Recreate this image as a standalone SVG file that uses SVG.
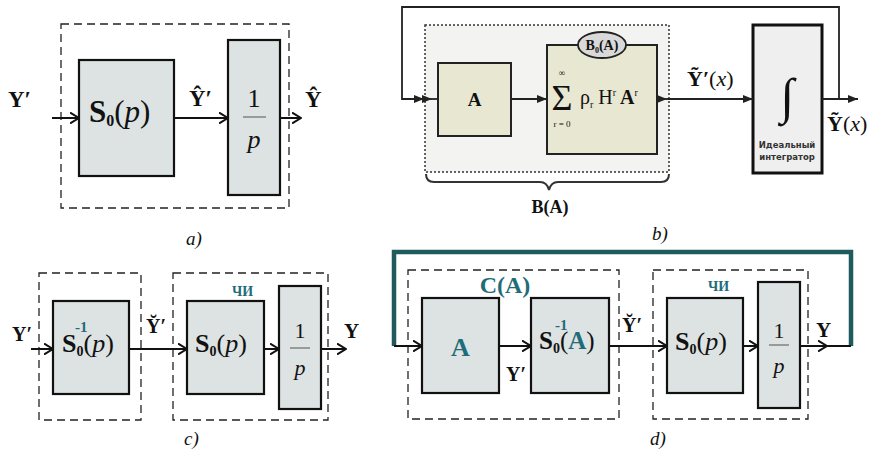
<svg xmlns="http://www.w3.org/2000/svg" width="871" height="451" viewBox="0 0 871 451">
<defs>
<marker id="chev" markerUnits="userSpaceOnUse" viewBox="0 0 10 12" refX="9.5" refY="6" markerWidth="10" markerHeight="12" orient="auto">
<path d="M0.5,0.5 L9.5,6 L0.5,11.5" fill="none" stroke="#111" stroke-width="2"/>
</marker>
<marker id="tri" markerUnits="userSpaceOnUse" viewBox="0 0 10 8" refX="10" refY="4" markerWidth="10" markerHeight="8" orient="auto">
<path d="M0,0 L10,4 L0,8 Z" fill="#222"/>
</marker>
<style>
.box{fill:#dde2e2;stroke:#111;stroke-width:2.2}
.bbox{fill:#e8e7d1;stroke:#222;stroke-width:2}
.dash{fill:none;stroke:#222;stroke-width:1.3;stroke-dasharray:8 5}
.ln{stroke:#111;stroke-width:2;fill:none}
.lnb{stroke:#222;stroke-width:1.8;fill:none}
.t{font-family:"Liberation Serif","Times New Roman",serif;fill:#111}
.b{font-weight:bold}
.i{font-style:italic}
.teal{fill:#1f6c7a}
.sans{font-family:"DejaVu Sans","Liberation Sans",sans-serif;font-weight:bold;fill:#333}
</style>
</defs>

<!-- Panel a -->
<g id="a-frame"><rect class="dash" x="61" y="24" width="228" height="184"/></g>
<g id="a-S0">
<rect class="box" x="79" y="60" width="95" height="116"/>
<text class="t" x="89" y="122" font-size="31"><tspan class="b">S</tspan><tspan font-size="16" dy="4" class="b">0</tspan><tspan dy="-4">(</tspan><tspan class="i">p</tspan>)</text>
</g>
<g id="a-int">
<rect class="box" x="228" y="40" width="52" height="155"/>
<text class="t" x="254" y="107" font-size="26" text-anchor="middle">1</text>
<line x1="243" y1="117" x2="266" y2="117" stroke="#555" stroke-width="1"/>
<text class="t i" x="254" y="148" font-size="26" text-anchor="middle">p</text>
</g>
<g id="a-conn">
<line class="ln" x1="52" y1="118" x2="79" y2="118" marker-end="url(#chev)"/>
<line class="ln" x1="174" y1="118" x2="228" y2="118" marker-end="url(#chev)"/>
<line class="ln" x1="280" y1="118" x2="301" y2="118" marker-end="url(#chev)"/>
</g>
<g id="a-labels">
<text class="t b" x="8" y="107" font-size="23">Y′</text>
<text class="t b" x="189" y="106" font-size="23">Ŷ′</text>
<text class="t b" x="305" y="107" font-size="23">Ŷ</text>
<text class="t i" x="186" y="245" font-size="19">a)</text>
</g>

<!-- Panel b -->
<g id="b-region"><rect x="425" y="25" width="244" height="147" fill="#f3f3f1" stroke="#333" stroke-width="1.5" stroke-dasharray="2 2"/></g>
<g id="b-A">
<rect class="bbox" x="438" y="63" width="73" height="73"/>
<text class="t b" x="474.5" y="106" font-size="19" text-anchor="middle">A</text>
</g>
<g id="b-sum">
<rect class="bbox" x="547" y="45" width="110" height="109"/>
<text class="t" x="562" y="110" font-size="36" text-anchor="middle">Σ</text>
<text class="t" x="562" y="76" font-size="9" text-anchor="middle">∞</text>
<text class="t" x="562" y="127" font-size="9" text-anchor="middle">r = 0</text>
<text class="t" x="580" y="104" font-size="20">ρ<tspan font-size="10" dy="4">r</tspan><tspan dy="-4"> H</tspan><tspan font-size="10" dy="-8">r</tspan><tspan dy="8" class="b"> A</tspan><tspan font-size="10" dy="-8">r</tspan></text>
</g>
<g id="b-B0">
<ellipse cx="602" cy="45" rx="24" ry="13" fill="#d9d9d9" stroke="#222" stroke-width="1.8"/>
<text class="t b" x="602" y="50" font-size="14" text-anchor="middle">B<tspan font-size="8" dy="3">0</tspan><tspan dy="-3">(A)</tspan></text>
</g>
<g id="b-integrator">
<rect x="753" y="25" width="69" height="148" fill="#efefef" stroke="#111" stroke-width="3"/>
<text class="t" x="787" y="113" font-size="50" text-anchor="middle">∫</text>
<text class="sans" x="787" y="148" font-size="8.5" text-anchor="middle">Идеальный</text>
<text class="sans" x="787" y="160" font-size="8.5" text-anchor="middle">интегратор</text>
</g>
<g id="b-conn">
<polyline class="lnb" points="839,99 839,7 402,7 402,99 424,99" marker-end="url(#tri)"/>
<line class="lnb" x1="424" y1="99" x2="432" y2="99" marker-end="url(#tri)"/>
<line class="lnb" x1="432" y1="99" x2="438" y2="99"/>
<line class="lnb" x1="511" y1="99" x2="547" y2="99" marker-end="url(#tri)"/>
<line class="lnb" x1="657" y1="99" x2="667" y2="99" marker-end="url(#tri)"/>
<line class="lnb" x1="667" y1="99" x2="753" y2="99" marker-end="url(#tri)"/>
<line class="lnb" x1="822" y1="99" x2="858" y2="99" marker-end="url(#tri)"/>
<path d="M426,174 Q426,182 434,182 L540,182 Q547,182 549,190 Q551,182 558,182 L661,182 Q669,182 669,174" fill="none" stroke="#333" stroke-width="2"/>
</g>
<g id="b-labels">
<text class="t" x="687" y="86" font-size="22"><tspan class="b">Ỹ′</tspan>(<tspan class="i">x</tspan>)</text>
<text class="t" x="827" y="131" font-size="22"><tspan class="b">Ỹ</tspan>(<tspan class="i">x</tspan>)</text>
<text class="t b" x="550" y="213" font-size="18" text-anchor="middle">B(A)</text>
<text class="t i" x="652" y="240" font-size="19">b)</text>
</g>

<!-- Panel c -->
<g id="c-frame1"><rect class="dash" x="39" y="273" width="102" height="147"/></g>
<g id="c-frame2"><rect class="dash" x="173" y="273" width="155" height="147"/></g>
<g id="c-S0inv">
<rect class="box" x="53" y="301" width="76" height="93"/>
<text class="t" x="62" y="352" font-size="26"><tspan class="b">S</tspan><tspan class="b" font-size="14" dy="4">0</tspan><tspan dy="-4">(</tspan><tspan class="i">p</tspan>)</text>
<text class="t b teal" x="75" y="332" font-size="15">-1</text>
</g>
<g id="c-S0">
<rect class="box" x="187" y="301" width="77" height="93"/>
<text class="t" x="195" y="352" font-size="26"><tspan class="b">S</tspan><tspan font-size="14" dy="4" class="b">0</tspan><tspan dy="-4">(</tspan><tspan class="i">p</tspan>)</text>
</g>
<g id="c-int">
<rect class="box" x="279" y="286" width="42" height="123"/>
<text class="t" x="300" y="338" font-size="22" text-anchor="middle">1</text>
<line x1="290" y1="348" x2="310" y2="348" stroke="#555" stroke-width="1"/>
<text class="t i" x="300" y="375" font-size="22" text-anchor="middle">p</text>
</g>
<g id="c-conn">
<line class="ln" x1="31" y1="349" x2="53" y2="349" marker-end="url(#chev)"/>
<line class="ln" x1="129" y1="349" x2="187" y2="349" marker-end="url(#chev)"/>
<line class="ln" x1="264" y1="349" x2="279" y2="349" marker-end="url(#chev)"/>
<line class="ln" x1="321" y1="349" x2="346" y2="349" marker-end="url(#chev)"/>
</g>
<g id="c-labels">
<text class="t b" x="12" y="341" font-size="20">Y′</text>
<text class="t b" x="146" y="333" font-size="20">Y̆′</text>
<text class="t b" x="344" y="338" font-size="21">Y</text>
<text class="t b teal" x="232" y="296" font-size="14">ЧИ</text>
<text class="t i" x="184" y="445" font-size="19">c)</text>
</g>

<!-- Panel d -->
<g id="d-frame1"><rect class="dash" x="408" y="270" width="211" height="149"/></g>
<g id="d-frame2"><rect class="dash" x="653" y="270" width="155" height="149"/></g>
<g id="d-A">
<rect class="box" x="422" y="298" width="77" height="95"/>
<text class="t b teal" x="460.5" y="356" font-size="26" text-anchor="middle">A</text>
</g>
<g id="d-S0inv">
<rect class="box" x="531" y="298" width="78" height="95"/>
<text class="t" x="539" y="349" font-size="25"><tspan class="b">S</tspan><tspan class="b" font-size="14" dy="4">0</tspan><tspan dy="-4">(</tspan><tspan class="b teal">A</tspan>)</text>
<text class="t b teal" x="555" y="330" font-size="15">-1</text>
</g>
<g id="d-S0">
<rect class="box" x="667" y="298" width="76" height="95"/>
<text class="t" x="675" y="350" font-size="26"><tspan class="b">S</tspan><tspan font-size="14" dy="4" class="b">0</tspan><tspan dy="-4">(</tspan><tspan class="i">p</tspan>)</text>
</g>
<g id="d-int">
<rect class="box" x="758" y="282" width="42" height="126"/>
<text class="t" x="779" y="338" font-size="22" text-anchor="middle">1</text>
<line x1="769" y1="345" x2="789" y2="345" stroke="#555" stroke-width="1"/>
<text class="t i" x="779" y="373" font-size="22" text-anchor="middle">p</text>
</g>
<g id="d-conn">
<polyline points="851,346 851,252 394,252 394,346" fill="none" stroke="#1f5a5c" stroke-width="4.5"/>
<line class="ln" x1="394" y1="346" x2="422" y2="346" marker-end="url(#chev)"/>
<line class="ln" x1="499" y1="346" x2="531" y2="346" marker-end="url(#chev)"/>
<line class="ln" x1="609" y1="346" x2="667" y2="346" marker-end="url(#chev)"/>
<line class="ln" x1="743" y1="346" x2="758" y2="346" marker-end="url(#chev)"/>
<line class="ln" x1="800" y1="346" x2="827" y2="346" marker-end="url(#chev)"/>
<line class="ln" x1="827" y1="346" x2="851" y2="346"/>
</g>
<g id="d-labels">
<text class="t b teal" x="505" y="293" font-size="24" text-anchor="middle">C(A)</text>
<text class="t b" x="506" y="381" font-size="20">Y′</text>
<text class="t b" x="622" y="332" font-size="20">Y̆′</text>
<text class="t b" x="816" y="337" font-size="21">Y</text>
<text class="t b teal" x="708" y="291" font-size="14">ЧИ</text>
<text class="t i" x="650" y="445" font-size="19">d)</text>
</g>
</svg>
